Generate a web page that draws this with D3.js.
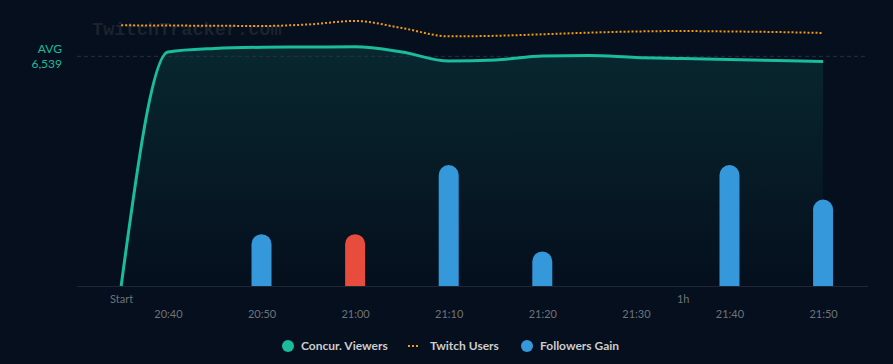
<!DOCTYPE html>
<html>
<head>
<meta charset="utf-8">
<script src="https://cdn.jsdelivr.net/npm/d3@7"></script>
<style>
  html, body { margin: 0; padding: 0; background: #050f1d; }
  svg { display: block; font-family: Lato, "Noto Sans", sans-serif; }
</style>
</head>
<body>
<div id="chart"></div>
<script>
// ---- data ----
const times = ["20:35", "20:40", "20:45", "20:50", "20:55", "21:00", "21:05", "21:10",
               "21:15", "21:20", "21:25", "21:30", "21:35", "21:40", "21:45", "21:50"];
const viewers = [0, 6662, 6762, 6796, 6804, 6810, 6662, 6406,
                 6434, 6548, 6562, 6505, 6477, 6448, 6420, 6391];
const twitchUsers = [2412000, 2410000, 2408000, 2406000, 2420000, 2452000, 2387000, 2310000,
                     2315000, 2329000, 2344000, 2355000, 2359000, 2355000, 2350000, 2341000];
const followerTimes = ["20:50", "21:00", "21:10", "21:20", "21:40", "21:50"];
const followers = [3, -3, 7, 2, 7, 5];
const avgViewers = 6539;
const tickTimes = ["20:40", "20:50", "21:00", "21:10", "21:20", "21:30", "21:40", "21:50"];
const legendItems = ["Concur. Viewers", "Twitch Users", "Followers Gain"];

// ---- setup ----
const width = 893, height = 364;
const baseY = 286;
const parse = s => { const [h, m] = s.split(":").map(Number); return new Date(2024, 0, 1, h, m); };
const startTime = parse(times[0]);

const svg = d3.select("#chart").append("svg")
    .attr("width", width)
    .attr("height", height);

svg.append("rect").attr("width", width).attr("height", height).attr("fill", "#050f1d");

// scales
const x = d3.scaleTime()
    .domain([new Date(2024, 0, 1, 20, 30, 17), new Date(2024, 0, 1, 21, 54, 48)])
    .range([77, 868]);
const yView = d3.scaleLinear().domain([0, 8000]).range([baseY, 5]);
const yUsers = d3.scaleLinear().domain([0, 2600000]).range([baseY, 5]);
const yFol = d3.scaleLinear().domain([0, 14]).range([baseY, 44]);

// gradient for the area
const defs = svg.append("defs");
const grad = defs.append("linearGradient")
    .attr("id", "areaGrad").attr("x1", 0).attr("y1", 0).attr("x2", 0).attr("y2", 1);
grad.append("stop").attr("offset", "0%").attr("stop-color", "#1abc9c").attr("stop-opacity", 0.14);
grad.append("stop").attr("offset", "100%").attr("stop-color", "#1abc9c").attr("stop-opacity", 0.0);

// watermark
svg.append("text")
    .attr("x", 92).attr("y", 35)
    .attr("font-family", "'Courier New', 'Liberation Mono', 'DejaVu Sans Mono', monospace")
    .attr("font-size", 18.6)
    .attr("font-weight", "bold")
    .attr("fill", "#1c232e")
    .text("TwitchTracker.com");

const viewData = times.map((t, i) => ({ t: parse(t), v: viewers[i] }));
const userData = times.map((t, i) => ({ t: parse(t), v: twitchUsers[i] }));

// viewers area
const area = d3.area()
    .x(d => x(d.t))
    .y0(baseY)
    .y1(d => yView(d.v))
    .curve(d3.curveMonotoneX);
svg.append("path")
    .datum(viewData)
    .attr("d", area)
    .attr("fill", "url(#areaGrad)");

// avg line
svg.append("line")
    .attr("x1", 77).attr("x2", 868)
    .attr("y1", yView(avgViewers)).attr("y2", yView(avgViewers))
    .attr("stroke", "#253243")
    .attr("stroke-width", 1)
    .attr("stroke-dasharray", "4,3");

svg.append("text")
    .attr("x", 62).attr("y", 53)
    .attr("text-anchor", "end")
    .attr("font-size", 12)
    .attr("fill", "#1abc9c")
    .text("AVG");
svg.append("text")
    .attr("x", 62).attr("y", 68)
    .attr("text-anchor", "end")
    .attr("font-size", 12)
    .attr("fill", "#1abc9c")
    .text(d3.format(",")(avgViewers));

// follower bars (rounded tops)
const barW = 20;
followerTimes.forEach((t, i) => {
    const cx = x(parse(t));
    const top = yFol(Math.abs(followers[i]));
    const r = barW / 2;
    const p = d3.path();
    p.moveTo(cx - r, baseY);
    p.lineTo(cx - r, top + r);
    p.arc(cx, top + r, r, Math.PI, 0);
    p.lineTo(cx + r, baseY);
    p.closePath();
    svg.append("path")
        .attr("d", p.toString())
        .attr("fill", followers[i] < 0 ? "#e74c3c" : "#3498db");
});

// axis line
svg.append("line")
    .attr("x1", 77).attr("x2", 868)
    .attr("y1", baseY + 0.5).attr("y2", baseY + 0.5)
    .attr("stroke", "#1d2737")
    .attr("stroke-width", 1);

// viewers line
const line = d3.line()
    .x(d => x(d.t))
    .y(d => yView(d.v))
    .curve(d3.curveMonotoneX);
svg.append("path")
    .datum(viewData)
    .attr("d", line)
    .attr("fill", "none")
    .attr("stroke", "#1abc9c")
    .attr("stroke-width", 3)
    .attr("stroke-linejoin", "round");

// twitch users dotted line
const uLine = d3.line()
    .x(d => x(d.t))
    .y(d => yUsers(d.v))
    .curve(d3.curveMonotoneX);
svg.append("path")
    .datum(userData)
    .attr("d", uLine)
    .attr("fill", "none")
    .attr("stroke", "#f39c12")
    .attr("stroke-width", 2)
    .attr("stroke-dasharray", "2,2");

// time axis
const gx = svg.append("g")
    .attr("transform", `translate(0,${baseY + 21})`)
    .call(d3.axisBottom(x)
        .tickValues(tickTimes.map(parse))
        .tickFormat(d3.timeFormat("%H:%M"))
        .tickSize(0));
gx.select(".domain").remove();
gx.selectAll("text")
    .attr("font-size", 11)
    .attr("font-family", "Lato, sans-serif")
    .attr("fill", "#6f7379");

// start / 1h labels
const marks = [startTime, new Date(startTime.getTime() + 60 * 60000)];
const gs = svg.append("g")
    .attr("transform", `translate(0,${baseY + 6})`)
    .call(d3.axisBottom(x)
        .tickValues(marks)
        .tickFormat((d, i) => i === 0 ? "Start" : "1h")
        .tickSize(0));
gs.select(".domain").remove();
gs.selectAll("text")
    .attr("font-size", 11)
    .attr("font-family", "Lato, sans-serif")
    .attr("fill", "#6f7379");

// legend
const legend = svg.append("g").attr("transform", "translate(0,346)");
legend.append("circle").attr("cx", 288).attr("cy", 0).attr("r", 6).attr("fill", "#1abc9c");
legend.append("text").attr("x", 301).attr("y", 4).text(legendItems[0]);
legend.append("line")
    .attr("x1", 408).attr("x2", 420).attr("y1", 0).attr("y2", 0)
    .attr("stroke", "#f39c12").attr("stroke-width", 2).attr("stroke-dasharray", "2,2");
legend.append("text").attr("x", 430).attr("y", 4).text(legendItems[1]);
legend.append("circle").attr("cx", 527).attr("cy", 0).attr("r", 6).attr("fill", "#3498db");
legend.append("text").attr("x", 540).attr("y", 4).text(legendItems[2]);
legend.selectAll("text")
    .attr("font-size", 12)
    .attr("font-weight", "bold")
    .attr("fill", "#cccccc");
</script>
</body>
</html>
